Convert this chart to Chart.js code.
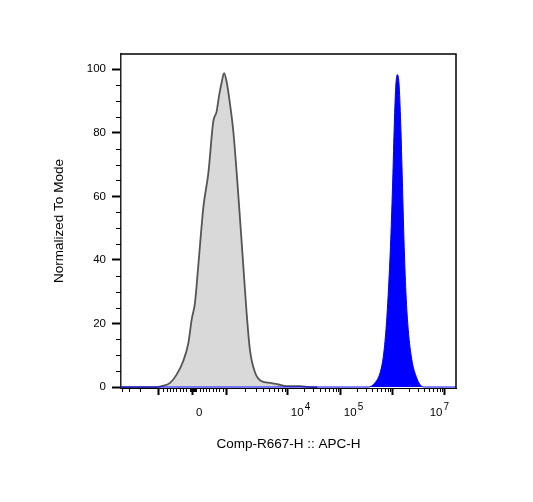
<!DOCTYPE html>
<html>
<head>
<meta charset="utf-8">
<script src="https://cdn.jsdelivr.net/npm/chart.js@4.4.1/dist/chart.umd.min.js"></script>
<style>
  html, body { margin: 0; padding: 0; background: #fff; }
  canvas { display: block; }
</style>
</head>
<body>
<canvas id="chart" width="533" height="502"></canvas>
<script>
// x axis is in display channels (0-1024), biexponential style
const xMajorValues = [-1e3, 0, 1e3, 1e4, 1e5, 1e6, 1e7];
const xMajorCh = [116, 220, 321, 510, 672, 831, 990];
const xLabelBase = ['', '0', '', '10', '10', '', '10'];
const xLabelExp = ['', '', '', '4', '5', '', '7'];

const yMajor = [0, 20, 40, 60, 80, 100];
const yMinor = [5, 10, 15, 25, 30, 35, 45, 50, 55, 65, 70, 75, 85, 90, 95];

// unstained / control histogram (gray)
const grayCh = [0, 110, 124, 150, 170, 190, 206, 216, 226, 236, 252, 267, 282, 292, 300, 308, 315, 323, 333, 343, 356, 364, 374, 384, 394, 410, 430, 456, 481, 506, 547, 578, 600];
const grayVal = [0, 0, 0.3, 1.3, 3.9, 8.1, 13.9, 21.2, 26.4, 37.9, 56.8, 67.3, 83.5, 86.6, 91.8, 96, 98.8, 96, 89.2, 80.8, 64.1, 52.6, 37.9, 23.3, 11.8, 4.5, 1.8, 1.3, 0.8, 0.3, 0.3, 0, 0];

// stained sample histogram (blue)
const blueCh = [0, 740, 756, 776, 792, 802, 810, 817, 824.5, 830.6, 835.5, 839.8, 844.6, 849.8, 855, 860, 865, 871, 878, 889, 902, 919, 930, 1024];
const blueVal = [0, 0, 0, 1.3, 4.5, 9.7, 18.1, 29.6, 46.3, 65.1, 83, 94.4, 98.3, 95.5, 83, 65.1, 46.3, 29.6, 18.1, 8.6, 3.4, 0.25, 0, 0];

const FONT = 'Liberation Sans, Arial, sans-serif';

// value -> channel, using the major tick table
function toChannel(v) {
  const ch = xMajorCh;
  if (Math.abs(v) <= 1000) return ch[1] + (v / 1000) * (ch[2] - ch[1]);
  if (v < -1000) return ch[0] - Math.log10(-v / 1000) * (ch[3] - ch[2]);
  for (let i = 2; i < xMajorValues.length - 1; i++) {
    if (v < xMajorValues[i + 1]) {
      return ch[i] + Math.log10(v / xMajorValues[i]) * (ch[i + 1] - ch[i]);
    }
  }
  return ch[ch.length - 1];
}

const xMinorValues = [];
[-4000, -3000, -2000].forEach(v => xMinorValues.push(v));
for (let k = 1; k <= 9; k++) { xMinorValues.push(-k * 100, k * 100, -k * 10, k * 10); }
[1e3, 1e4, 1e5, 1e6].forEach(d => { for (let k = 2; k <= 9; k++) xMinorValues.push(k * d); });

const axisExtras = {
  id: 'axisExtras',
  afterDraw(chart) {
    const { ctx, chartArea: a, scales: { x, y } } = chart;
    ctx.save();
    ctx.strokeStyle = '#000';
    ctx.lineWidth = 1;
    ctx.beginPath();
    xMinorValues.forEach(v => {
      const px = Math.round(x.getPixelForValue(toChannel(v))) + 0.5;
      if (px < a.left || px > a.right) return;
      ctx.moveTo(px, a.bottom);
      ctx.lineTo(px, a.bottom + 4);
    });
    yMinor.forEach(v => {
      const py = Math.round(y.getPixelForValue(v)) + 0.5;
      ctx.moveTo(a.left, py);
      ctx.lineTo(a.left - 5, py);
    });
    ctx.stroke();
    // top and right frame
    ctx.lineWidth = 1.5;
    ctx.beginPath();
    ctx.moveTo(a.left, a.top);
    ctx.lineTo(a.right, a.top);
    ctx.lineTo(a.right, a.bottom);
    ctx.stroke();

    // x tick labels with raised exponents
    ctx.fillStyle = '#000';
    ctx.textBaseline = 'alphabetic';
    ctx.textAlign = 'left';
    xMajorCh.forEach((c, i) => {
      if (!xLabelBase[i]) return;
      ctx.font = '11.5px ' + FONT;
      const wBase = ctx.measureText(xLabelBase[i]).width;
      ctx.font = '10px ' + FONT;
      const wExp = xLabelExp[i] ? ctx.measureText(xLabelExp[i]).width + 1 : 0;
      let left = x.getPixelForValue(c) + 3;
      left = Math.min(left, a.right - 7 - wBase - wExp);
      const base = a.bottom + 28;
      ctx.font = '11.5px ' + FONT;
      ctx.fillText(xLabelBase[i], left, base);
      if (xLabelExp[i]) {
        ctx.font = '10px ' + FONT;
        ctx.fillText(xLabelExp[i], left + wBase + 1, base - 6);
      }
    });
    ctx.restore();
  }
};

new Chart(document.getElementById('chart'), {
  type: 'line',
  data: {
    datasets: [
      {
        label: 'APC-H',
        data: blueCh.map((c, i) => ({ x: c, y: blueVal[i] })),
        borderColor: '#0000ff',
        backgroundColor: '#0000ff',
        borderWidth: 1,
        fill: 'origin',
        pointRadius: 0,
        cubicInterpolationMode: 'monotone'
      },
      {
        label: 'Control',
        data: grayCh.map((c, i) => ({ x: c, y: grayVal[i] })),
        borderColor: '#555555',
        backgroundColor: '#d9d9d9',
        borderWidth: 1.8,
        fill: 'origin',
        pointRadius: 0,
        cubicInterpolationMode: 'monotone'
      }
    ]
  },
  options: {
    responsive: false,
    animation: false,
    layout: { padding: { left: 51, top: 54, right: 77, bottom: 46 } },
    plugins: {
      legend: { display: false },
      tooltip: { enabled: false }
    },
    scales: {
      x: {
        type: 'linear',
        min: 0,
        max: 1024,
        afterBuildTicks: s => { s.ticks = xMajorCh.map(v => ({ value: v })); },
        afterFit: s => { s.height = 68; },
        grid: { drawOnChartArea: false, drawTicks: true, tickLength: 7, tickWidth: 2, tickColor: '#000' },
        border: { display: true, color: '#000', width: 1 },
        ticks: {
          autoSkip: false,
          maxRotation: 0,
          callback: () => ''
        },
        title: {
          display: true,
          text: 'Comp-R667-H :: APC-H',
          color: '#000',
          font: { family: FONT, size: 13.5 },
          padding: { top: 0, bottom: 4 }
        }
      },
      y: {
        min: -0.3,
        max: 104.8,
        afterBuildTicks: s => { s.ticks = yMajor.map(v => ({ value: v })); },
        afterFit: s => { s.width = 70; },
        grid: { drawOnChartArea: false, drawTicks: true, tickLength: 9, tickWidth: 2, tickColor: '#000' },
        border: { display: true, color: '#222', width: 1.5 },
        ticks: {
          padding: 6,
          color: '#000',
          font: { family: FONT, size: 11.5 },
          callback: v => String(v)
        },
        title: {
          display: true,
          text: 'Normalized To Mode',
          color: '#000',
          font: { family: FONT, size: 13.5 },
          padding: { top: 0, bottom: 0 }
        }
      }
    }
  },
  plugins: [axisExtras]
});
</script>
</body>
</html>
